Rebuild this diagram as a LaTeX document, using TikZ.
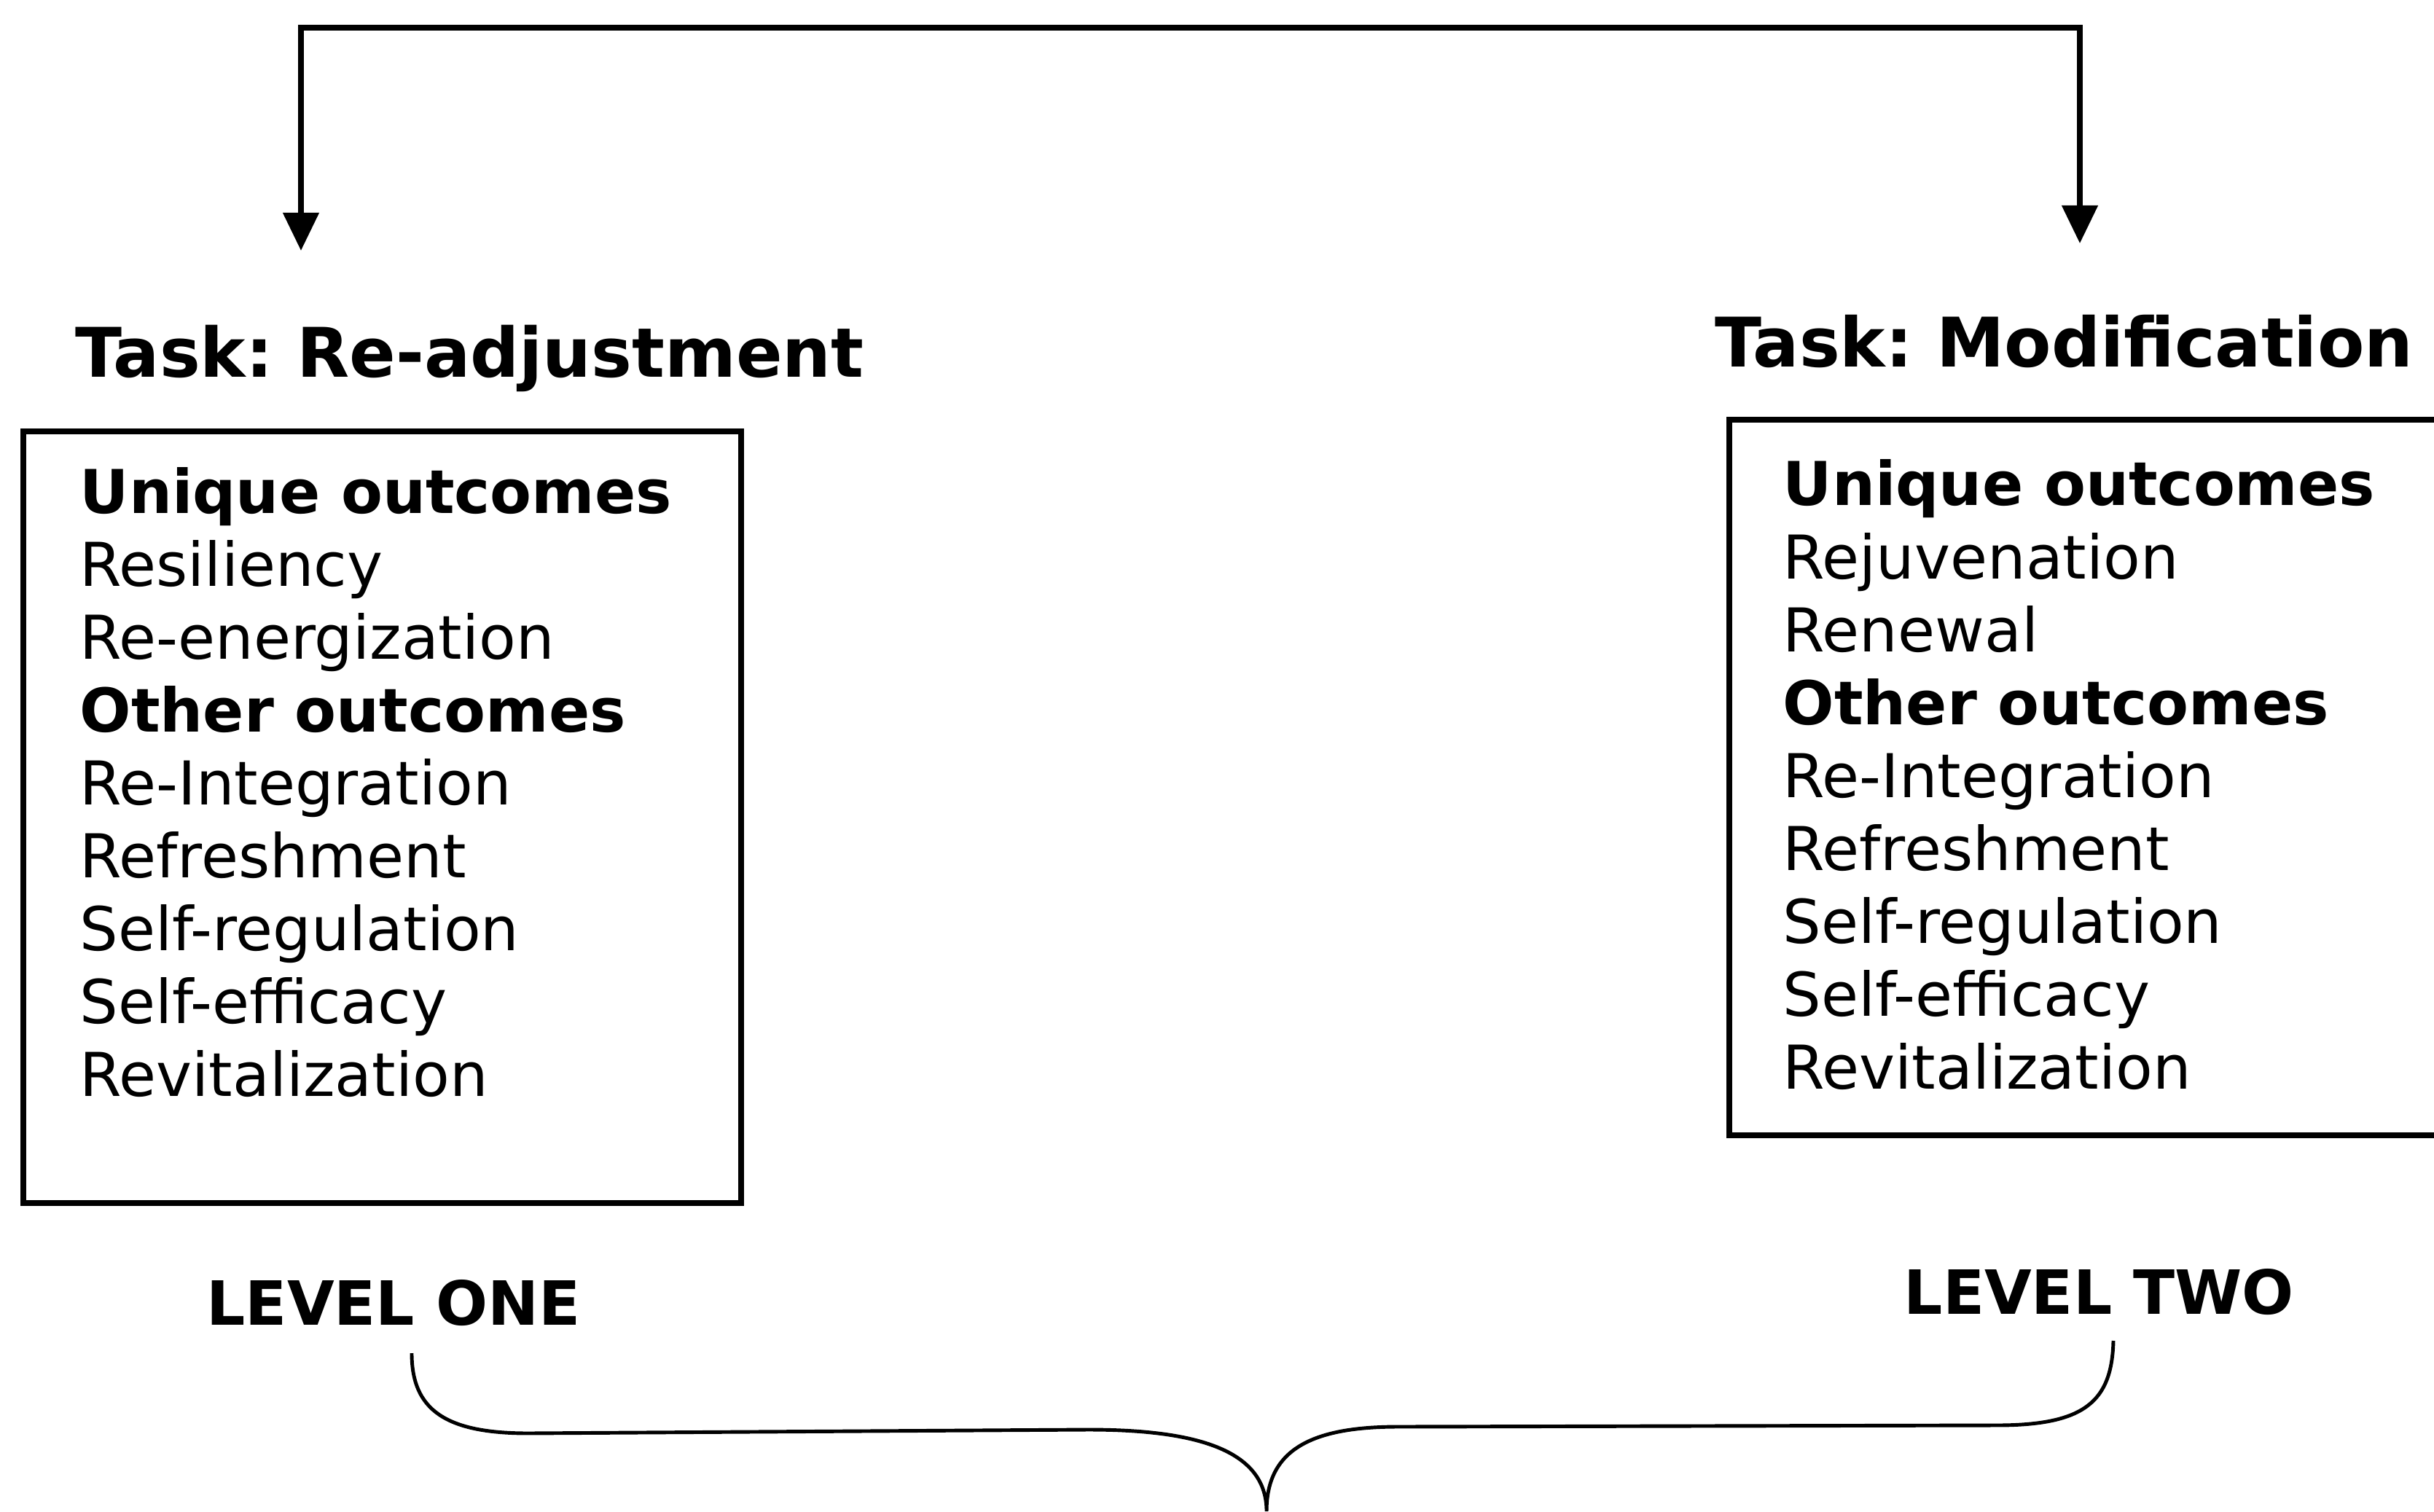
\documentclass[tikz,border=0pt]{standalone}
\usepackage{fontspec}
\setmainfont{DejaVu Sans}
\frenchspacing
\usetikzlibrary{arrows.meta}
\tikzset{
  item/.style={anchor=base west, inner sep=0pt, font=\fontsize{23.6}{28.4}\selectfont},
  task/.style={anchor=base west, inner sep=0pt, font=\fontsize{26.7}{32}\selectfont\bfseries},
  level/.style={anchor=base west, inner sep=0pt, font=\fontsize{23.8}{28.4}\selectfont\bfseries},
  outbox/.style={draw, line width=2.2pt, inner sep=0pt},
  flow/.style={line width=2.2pt, {Triangle[length=5.2mm,width=4.8mm]}-{Triangle[length=5.2mm,width=4.8mm]}}
}
\begin{document}
\begin{tikzpicture}
      \clip (0,0) rectangle (33.4,20.74);
      \fill[white] (0,0) rectangle (33.4,20.74);
      \draw
        (1.03,15.56) node[task] (taskone){Task: Re-adjustment}
        (23.53,15.70) node[task] (tasktwo){Task: Modification}
        (2.83,2.56) node[level] (levone){LEVEL ONE}
        (26.12,2.71) node[level] (levtwo){LEVEL TWO};
      \node[outbox, minimum width=9.85cm, minimum height=10.59cm] (boxone) at (5.245,9.525) {};
      \node[outbox, minimum width=10.2cm, minimum height=9.82cm] (boxtwo) at (28.83,10.07) {};
      \foreach \txt [count=\i from 0] in {\textbf{Unique outcomes}, Resiliency, Re-energization,
          \textbf{Other outcomes}, Re-Integration, Refreshment, Self-regulation, Self-efficacy, Revitalization}
        \node[item] (one\i) at (1.09,13.70-\i) {\txt};
      \foreach \txt [count=\i from 0] in {\textbf{Unique outcomes}, Rejuvenation, Renewal,
          \textbf{Other outcomes}, Re-Integration, Refreshment, Self-regulation, Self-efficacy, Revitalization}
        \node[item] (two\i) at (24.46,13.80-\i) {\txt};
      % feedback line over both tasks
      \coordinate (inone) at (4.13,17.30);
      \coordinate (intwo) at (28.54,17.40);
      \draw[flow] (inone) |- (4.13,20.36) -| (intwo);
      % brace under the two levels
      \coordinate (braceone) at (5.65,2.17);
      \coordinate (bracetwo) at (29.00,2.34);
      \coordinate (tip) at (17.38,0.0);
      \begin{scope}[line width=1.4pt]
        \draw (braceone) .. controls (5.65,1.40) and (6.10,1.07) .. (7.25,1.07)
          -- (14.93,1.12) .. controls (16.40,1.12) and (17.38,0.85) .. (tip)
          .. controls (17.38,0.85) and (18.00,1.16) .. (19.19,1.16)
          -- (27.40,1.18) .. controls (28.60,1.18) and (28.98,1.50) .. (bracetwo);
      \end{scope}
    \end{tikzpicture}
\end{document}
